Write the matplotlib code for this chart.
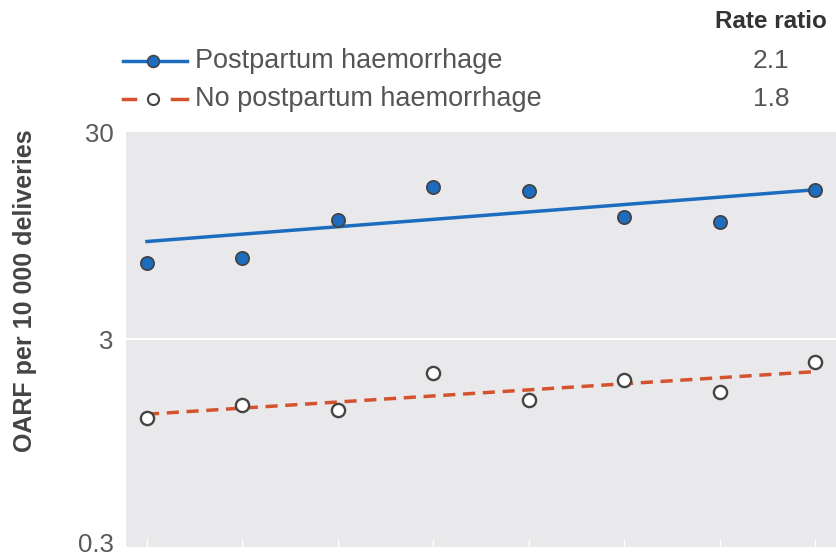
import matplotlib.pyplot as plt
import matplotlib.transforms as mtransforms
from matplotlib.lines import Line2D

plt.rcParams['font.family'] = ['Liberation Sans', 'DejaVu Sans']

# yearly rates of obstetric acute renal failure per 10 000 deliveries
periods = [0, 1, 2, 3, 4, 5, 6, 7]
pph_rates = [7.0, 7.4, 11.3, 16.3, 15.6, 11.7, 11.1, 15.8]
no_pph_rates = [1.25, 1.45, 1.37, 2.08, 1.53, 1.91, 1.67, 2.33]

# fitted trend lines (start, end)
pph_trend = [8.9, 15.8]
no_pph_trend = [1.31, 2.1]

labels = ['Postpartum haemorrhage', 'No postpartum haemorrhage']
rate_ratios = ['2.1', '1.8']

BLUE = '#1c6cc0'
RED = '#d4532e'
EDGE = '#444444'
TEXT = '#555555'

W, H = 836, 559
fig = plt.figure(figsize=(W / 100, H / 100), dpi=100)
ax = fig.add_axes([126 / W, 1 - 547 / H, 1 - 126 / W, (547 - 132) / H])
ax.set_facecolor('#e9e9eb')
for s in ax.spines.values():
    s.set_visible(False)

ax.set_yscale('log')
ax.set_ylim(0.3, 30)
ax.set_xlim(-0.22, 7.22)
ax.set_yticks([0.3, 3, 30])
ax.set_yticklabels(['0.3', '3', '30'])
ax.minorticks_off()
ax.axhline(3, color='white', lw=1.5, zorder=1)

ax.set_xticks(periods)
ax.set_xticklabels([])
ax.tick_params(axis='x', direction='in', length=6, width=1, color='white', pad=0)
ax.tick_params(axis='y', length=0, pad=9, labelsize=18.5, labelcolor='#5a5a5a')
# nudge the bottom label up so it stays inside the figure
lowest = ax.get_yticklabels()[0]
lowest.set_transform(lowest.get_transform() +
                     mtransforms.ScaledTranslation(0, 5 / 100, fig.dpi_scale_trans))

ax.plot([periods[0], periods[-1]], pph_trend, color=BLUE, lw=2.5, zorder=2)
ax.plot([periods[0], periods[-1]], no_pph_trend, color=RED, lw=2.5,
        dashes=(3.5, 2.2), zorder=2)
ax.plot(periods, pph_rates, 'o', ms=9.5, mfc=BLUE, mec=EDGE, mew=1.3, zorder=3)
ax.plot(periods, no_pph_rates, 'o', ms=9.5, mfc='white', mec=EDGE, mew=1.7, zorder=3)

ax.set_ylabel('OARF per 10 000 deliveries', fontsize=18, fontweight='bold',
              color='#444444')
ax.yaxis.set_label_coords(-0.125, 0.617)

# legend drawn by hand with rate ratio column
leg_y = [1 - 61 / H, 1 - 99 / H]
x0, x1, xm = 123 / W, 187 / W, 153 / W
fig.add_artist(Line2D([x0, x1], [leg_y[0]] * 2, color=BLUE, lw=2.5,
                      transform=fig.transFigure))
fig.add_artist(Line2D([xm], [leg_y[0]], marker='o', ms=8.5, mfc=BLUE,
                      mec=EDGE, mew=1.2, transform=fig.transFigure))
for a, b in [(123, 135), (172, 187)]:
    fig.add_artist(Line2D([a / W, b / W], [leg_y[1]] * 2, color=RED, lw=2.5,
                          transform=fig.transFigure))
fig.add_artist(Line2D([xm], [leg_y[1]], marker='o', ms=8, mfc='white',
                      mec=EDGE, mew=1.5, transform=fig.transFigure))
for y, lab, rr in zip(leg_y, labels, rate_ratios):
    fig.text(195 / W, y, lab, fontsize=19.5, color=TEXT, va='center', ha='left')
    fig.text(771 / W, y, rr, fontsize=19, color=TEXT, va='center', ha='center')
fig.text(771 / W, 1 - 22 / H, 'Rate ratio', fontsize=17.5, fontweight='bold',
         color='#333333', va='center', ha='center')

fig.savefig('out.png', dpi=100)
